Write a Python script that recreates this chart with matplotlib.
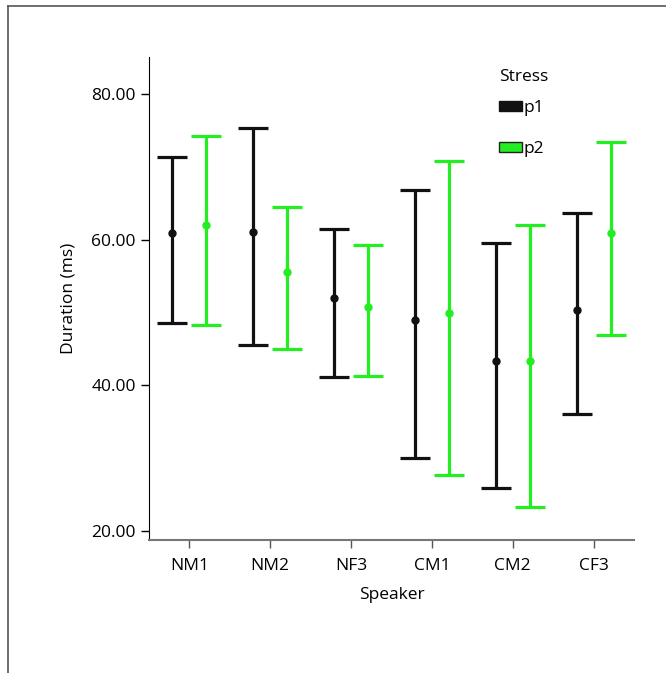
import matplotlib.pyplot as plt
from matplotlib.patches import Patch
from matplotlib.lines import Line2D
import numpy as np

plt.rcParams['font.family'] = ['Open Sans', 'DejaVu Sans']

speakers = ['NM1', 'NM2', 'NF3', 'CM1', 'CM2', 'CF3']
# mean, upper and lower end of the bars (ms)
p1_mean = [60.9, 61.0, 52.0, 49.0, 43.4, 50.3]
p1_high = [71.4, 75.4, 61.5, 66.8, 59.6, 63.6]
p1_low = [48.5, 45.5, 41.1, 30.0, 25.9, 36.0]
p2_mean = [62.0, 55.5, 50.8, 49.9, 43.4, 60.9]
p2_high = [74.2, 64.5, 59.2, 70.8, 62.0, 73.4]
p2_low = [48.3, 45.0, 41.3, 27.7, 23.3, 46.9]

black = '#111111'
green = '#22ee22'

fig = plt.figure(figsize=(6.66, 6.73), dpi=100)
ax = fig.add_axes([0.2237, 0.1976, 0.7282, 0.7177])

x = np.arange(len(speakers))
for off, mean, hi, lo, col in [(-0.21, p1_mean, p1_high, p1_low, black),
                               (0.21, p2_mean, p2_high, p2_low, green)]:
    mean = np.array(mean)
    err = [mean - np.array(lo), np.array(hi) - mean]
    ax.errorbar(x + off, mean, yerr=err, fmt='o', color=col, ecolor=col,
                elinewidth=2.3, capsize=10.5, capthick=2.3, markersize=5)

ax.set_xlim(-0.5, 5.5)
ax.set_ylim(18.76, 85.08)
ax.set_xticks(x)
ax.set_xticklabels(speakers)
ax.set_yticks([20, 40, 60, 80])
ax.set_yticklabels(['20.00', '40.00', '60.00', '80.00'])
ax.tick_params(axis='both', labelsize=12.5, direction='out', length=6, width=1)
ax.tick_params(axis='x', colors='#555555', labelcolor='black', pad=7)
for s in ['top', 'right']:
    ax.spines[s].set_visible(False)
ax.spines['bottom'].set_color('#777777')
ax.spines['bottom'].set_linewidth(1.5)
ax.spines['left'].set_color('black')

ax.set_xlabel('Speaker', fontsize=12.5, labelpad=9)
ax.set_ylabel('Duration (ms)', fontsize=12.5, labelpad=11)

handles = [Patch(facecolor=black, edgecolor=black, label='p1'),
           Patch(facecolor=green, edgecolor='#222222', label='p2')]
leg = fig.legend(handles=handles, title='Stress', loc='upper left',
                 bbox_to_anchor=(487 / 666, 1 - 57 / 673), frameon=False,
                 fontsize=12.5, title_fontsize=12.5, handlelength=1.3,
                 handleheight=0.5, handletextpad=0.1, labelspacing=1.4,
                 borderpad=0.2)
leg._legend_box.align = 'left'
leg._legend_box.sep = 11

# outer frame lines (top and left)
fig.add_artist(Line2D([8 / 666, 1], [1 - 6 / 673, 1 - 6 / 673],
                      color='#555555', lw=1.2, transform=fig.transFigure))
fig.add_artist(Line2D([8 / 666, 8 / 666], [0, 1 - 6 / 673],
                      color='#555555', lw=1.2, transform=fig.transFigure))

fig.savefig('out.png', dpi=100)
